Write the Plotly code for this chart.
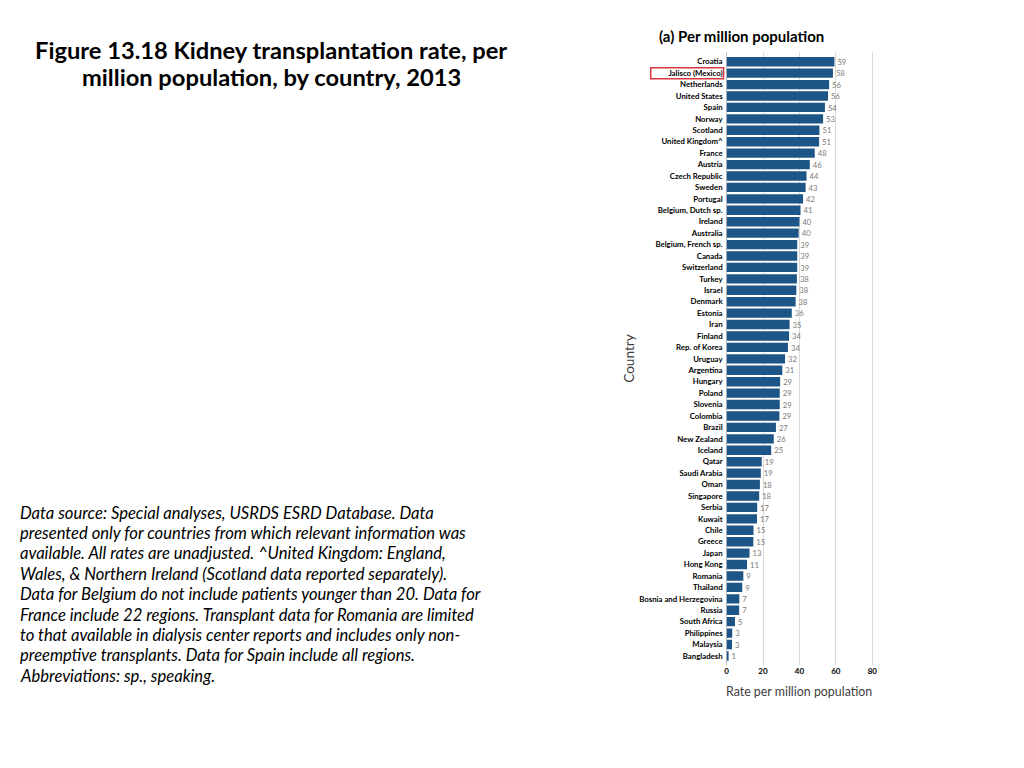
import plotly.graph_objects as go

countries = ["Croatia", "Jalisco (Mexico)", "Netherlands", "United States", "Spain", "Norway",
             "Scotland", "United Kingdom^", "France", "Austria", "Czech Republic", "Sweden",
             "Portugal", "Belgium, Dutch sp.", "Ireland", "Australia", "Belgium, French sp.",
             "Canada", "Switzerland", "Turkey", "Israel", "Denmark", "Estonia", "Iran",
             "Finland", "Rep. of Korea", "Uruguay", "Argentina", "Hungary", "Poland",
             "Slovenia", "Colombia", "Brazil", "New Zealand", "Iceland", "Qatar",
             "Saudi Arabia", "Oman", "Singapore", "Serbia", "Kuwait", "Chile", "Greece",
             "Japan", "Hong Kong", "Romania", "Thailand", "Bosnia and Herzegovina", "Russia",
             "South Africa", "Philippines", "Malaysia", "Bangladesh"]
rates = [59, 58, 56, 56, 54, 53, 51, 51, 48, 46, 44, 43, 42, 41, 40, 40, 39,
         39, 39, 38, 38, 38, 36, 35, 34, 34, 32, 31, 29, 29, 29, 29, 27, 26, 25, 19,
         19, 18, 18, 17, 17, 15, 15, 13, 11, 9, 9, 7, 7, 5, 3, 3, 1]
# slightly more precise bar lengths (labels are rounded)
bar_lengths = [59.2, 58.4, 56.3, 55.7, 54.0, 53.0, 51.0, 50.8, 48.4, 45.7, 43.9, 43.4,
               42.0, 40.6, 40.0, 39.6, 38.8, 38.8, 38.8, 38.6, 38.3, 37.9, 35.8, 34.6,
               34.3, 33.7, 32.1, 30.6, 29.4, 29.2, 29.2, 29.0, 27.1, 25.9, 24.5, 19.3,
               18.8, 18.3, 17.9, 16.8, 16.7, 14.8, 14.7, 12.6, 11.2, 9.2, 8.6, 7.0,
               6.9, 4.6, 3.1, 3.0, 0.7]
x_ticks = [0, 20, 40, 60, 80]

title_lines = ["Figure 13.18 Kidney transplantation rate, per",
               "million population, by country, 2013"]
note_lines = ["Data source: Special analyses, USRDS ESRD Database. Data",
              "presented only for countries from which relevant information was",
              "available. All rates are unadjusted. ^United Kingdom: England,",
              "Wales, & Northern Ireland (Scotland data reported separately).",
              "Data for Belgium do not include patients younger than 20. Data for",
              "France include 22 regions. Transplant data for Romania are limited",
              "to that available in dialysis center reports and includes only non-",
              "preemptive transplants. Data for Spain include all regions.",
              "Abbreviations: sp., speaking."]

# page body has an 8px margin; size the figure so it fits the window
OFF = 8
W, H = 1024 - OFF, 768 - OFF
def px(x):
    return (x - OFF) / W
def py(y):
    return 1 - (y - OFF) / H

fig = go.Figure()
fig.add_trace(go.Bar(
    x=bar_lengths, y=countries, orientation="h",
    marker=dict(color="#1D5586", line=dict(width=0)),
    text=[str(r) for r in rates], textposition="outside",
    textfont=dict(family="Lato", size=9.8, color="#7A7A7A"),
    cliponaxis=False, width=0.82,
))

fig.update_layout(
    width=W, height=H, margin=dict(l=0, r=0, t=0, b=0),
    paper_bgcolor="white", plot_bgcolor="white", showlegend=False,
    font=dict(family="Lato"),
    xaxis=dict(domain=[px(726), px(880)], range=[0, 84.4], tickvals=x_ticks,
               showgrid=True, gridcolor="#D9D9D9", gridwidth=1,
               zeroline=True, zerolinecolor="#BFBFBF", zerolinewidth=1,
               tickfont=dict(family="Lato", size=8, color="#000000", weight="bold"),
               ticks="", fixedrange=True),
    yaxis=dict(domain=[py(665), py(52)], range=[52.79, -0.85],
               categoryorder="array", categoryarray=countries,
               tickfont=dict(family="Lato", size=7.8, color="#000000", weight="bold"),
               ticks="", showgrid=False, ticklabelstandoff=3),
)

ann = []
for i, line in enumerate(title_lines):
    ann.append(dict(x=px(270), y=py(50 + 27 * i), xref="paper", yref="paper",
                    text=line, showarrow=False, xanchor="center", yanchor="middle",
                    font=dict(family="Lato", size=23.7, color="#000000", weight="bold")))
for i, line in enumerate(note_lines):
    ann.append(dict(x=px(16), y=py(512.5 + 20.4 * i), xref="paper", yref="paper",
                    text="<i>" + line + "</i>", showarrow=False, xanchor="left", yanchor="middle",
                    font=dict(family="Lato", size=16.6, color="#000000")))
ann.append(dict(x=px(741), y=py(36), xref="paper", yref="paper",
                text="(a) Per million population", showarrow=False,
                xanchor="center", yanchor="middle",
                font=dict(family="Lato", size=15, color="#000000", weight="bold")))
ann.append(dict(x=px(799), y=py(691), xref="paper", yref="paper",
                text="Rate per million population", showarrow=False,
                xanchor="center", yanchor="middle",
                font=dict(family="Lato", size=12.4, color="#404040")))
ann.append(dict(x=px(628), y=py(358), xref="paper", yref="paper",
                text="Country", showarrow=False, textangle=-90,
                xanchor="center", yanchor="middle",
                font=dict(family="Lato", size=13.6, color="#404040")))
fig.update_layout(annotations=ann)

fig.add_shape(type="rect", xref="paper", yref="y", x0=px(650), x1=px(723),
              y0=1 - 0.48, y1=1 + 0.48, line=dict(color="#D9363E", width=1.5),
              fillcolor="rgba(0,0,0,0)")

fig.write_html("out.html")
